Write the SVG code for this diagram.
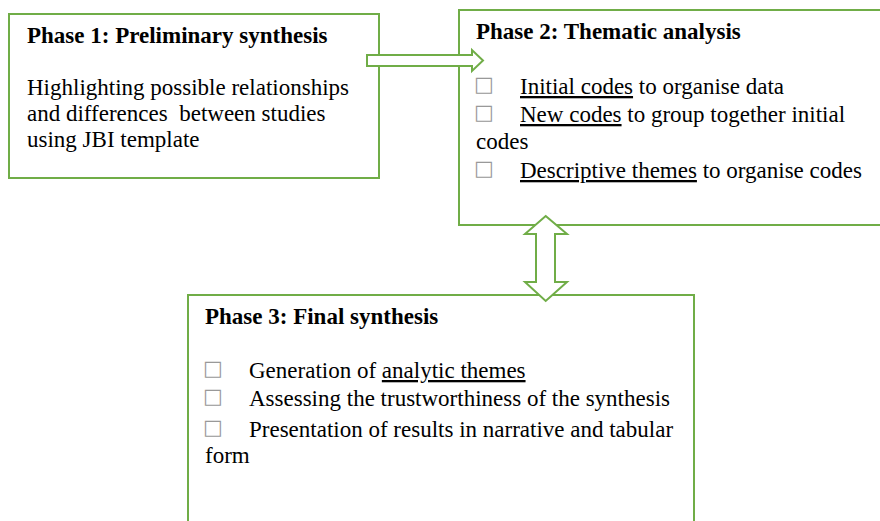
<svg xmlns="http://www.w3.org/2000/svg" width="880" height="521" viewBox="0 0 880 521">
<style>
.box{fill:#fff;stroke:#70AD47;stroke-width:2}
.arrow{fill:#fff;stroke:#70AD47;stroke-width:2;stroke-linejoin:miter}
.t{font-family:"Liberation Serif","Times New Roman",serif;font-size:23px;fill:#000}
.b{font-weight:bold}
.u{text-decoration:underline}
.sq{font-family:"DejaVu Sans",sans-serif;font-size:21px;fill:#999}
</style>
<rect width="880" height="521" fill="#fff"/>
<g id="phase1">
<rect class="box" x="9" y="14" width="370" height="164"/>
<text class="t b" x="27" y="43">Phase 1: Preliminary synthesis</text>
<text class="t" x="27" y="95">Highlighting possible relationships</text>
<text class="t" x="27" y="121" xml:space="preserve">and differences  between studies</text>
<text class="t" x="27" y="147">using JBI template</text>
</g>
<g id="phase2">
<rect class="box" x="459" y="10" width="430" height="215"/>
<text class="t b" x="476" y="39">Phase 2: Thematic analysis</text>
<text class="sq" x="474" y="91">□</text>
<text class="t" x="520" y="94"><tspan class="u">Initial codes</tspan> to organise data</text>
<text class="sq" x="474" y="119">□</text>
<text class="t" x="520" y="122"><tspan class="u">New codes</tspan> to group together initial</text>
<text class="t" x="476" y="149">codes</text>
<text class="sq" x="474" y="175">□</text>
<text class="t" x="520" y="178"><tspan class="u">Descriptive themes</tspan> to organise codes</text>
</g>
<g id="phase3">
<rect class="box" x="188" y="295" width="506" height="240"/>
<text class="t b" x="205" y="324">Phase 3: Final synthesis</text>
<text class="sq" x="203" y="375">□</text>
<text class="t" x="249" y="378">Generation of <tspan class="u">analytic themes</tspan></text>
<text class="sq" x="203" y="403">□</text>
<text class="t" x="249" y="406">Assessing the trustworthiness of the synthesis</text>
<text class="sq" x="203" y="434">□</text>
<text class="t" x="249" y="437">Presentation of results in narrative  and tabular</text>
<text class="t" x="205" y="463">form</text>
</g>
<g id="connectors">
<polygon class="arrow" points="367,55 472,55 472,50 483,60.5 472,71 472,66 367,66"/>
<polygon class="arrow" points="545.7,216 567,234 555,234 555,282 567,282 545.7,301 525,282 536,282 536,234 525,234"/>
</g>
</svg>
